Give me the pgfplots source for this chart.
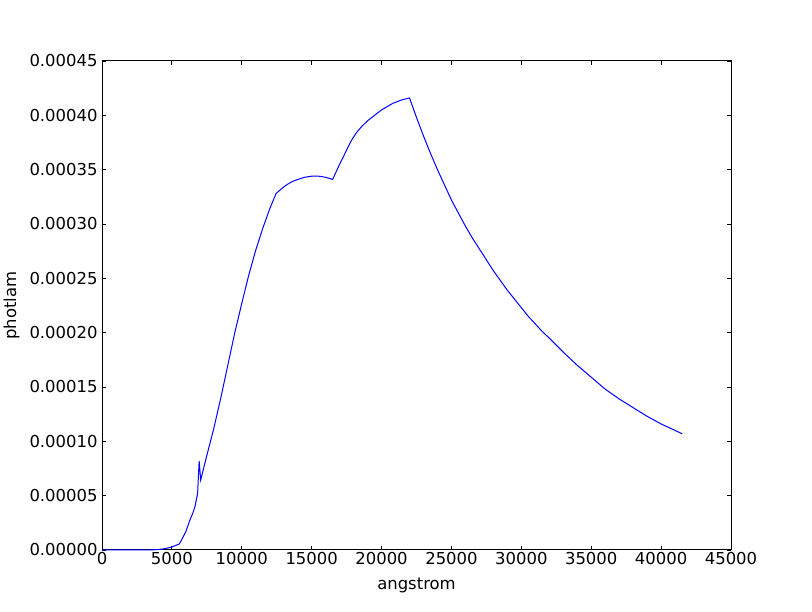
\documentclass[border=0pt]{standalone}
\usepackage{fontspec}
\setmainfont{DejaVu Sans}
\usepackage{pgfplots}
\pgfplotsset{compat=1.18}
\begin{document}
\begin{tikzpicture}[x=1bp,y=1bp]
\fill[white] (0,0) rectangle (812,612);
\useasboundingbox (0,0) rectangle (812,612);
\begin{axis}[
  at={(102bp,62bp)}, anchor=south west,
  scale only axis, width=629bp, height=489bp,
  xmin=0, xmax=45000, ymin=0, ymax=0.00045,
  clip=false,
  xtick={0,5000,...,45000},
  ytick={0,0.00005,0.0001,0.00015,0.0002,0.00025,0.0003,0.00035,0.0004,0.00045},
  scaled x ticks=false, scaled y ticks=false,
  xticklabel style={yshift=1bp,/pgf/number format/.cd,fixed,1000 sep={},assume math mode=true},
  yticklabel style={xshift=-1bp,/pgf/number format/.cd,fixed,fixed zerofill,precision=5,assume math mode=true},
  tick align=inside, xtick pos=both, ytick pos=both,
  major tick length=4bp,
  tick style={black, line width=0.8bp},
  axis line style={black, line width=1bp},
  every tick label/.append style={font=\fontsize{16.5}{19}\selectfont},
  label style={font=\fontsize{16.5}{19}\selectfont},
  xlabel={angstrom}, ylabel={photlam},
  xlabel style={yshift=-6bp},
  ylabel style={yshift=3bp},
]
\addplot[color={rgb,255:red,0;green,0;blue,255}, line width=1bp] coordinates {
(0,0) (1000,0) (2000,0) (3000,0) (3500,0.0000001) (4000,0.0000004) (4500,0.0000012) (5000,0.0000028) (5530,0.0000055)
(5815,0.0000122) (6000,0.000017) (6290,0.0000276) (6500,0.000034) (6650,0.0000398) (6840,0.000052)
(6950,0.000082) (7060,0.0000644) (7500,0.000087) (8000,0.000112) (8500,0.000140) (9000,0.000170)
(9500,0.000200) (10000,0.000227) (10500,0.000253) (11000,0.000276) (11500,0.000296) (12000,0.000314)
(12450,0.000328) (12800,0.000332) (13200,0.000336) (13600,0.000339) (14000,0.000341) (14500,0.000343)
(15000,0.000344) (15500,0.000344) (16000,0.000343) (16500,0.000341)
(17000,0.000355) (17500,0.000368) (17850,0.000377) (18200,0.000384) (18600,0.000390) (19000,0.000395)
(19500,0.000400) (20000,0.000405) (20400,0.000408) (20800,0.000411) (21400,0.000414) (22000,0.000416)
(22500,0.000398) (23000,0.000381) (23500,0.000365) (24000,0.000350) (24500,0.000336) (25000,0.000322)
(25500,0.000310) (26000,0.000298) (26500,0.000287) (27000,0.000277) (27500,0.000267) (28000,0.000257)
(28500,0.000248) (29000,0.000239) (29500,0.000231) (30000,0.000223) (30500,0.000215) (31000,0.000208)
(31500,0.000201) (32000,0.000195) (33000,0.000182) (34000,0.000170) (35000,0.000159) (36000,0.000148)
(37000,0.000139) (38000,0.000131) (39000,0.000123) (40000,0.000116) (41500,0.000107)
};
\end{axis}
\end{tikzpicture}
\end{document}
